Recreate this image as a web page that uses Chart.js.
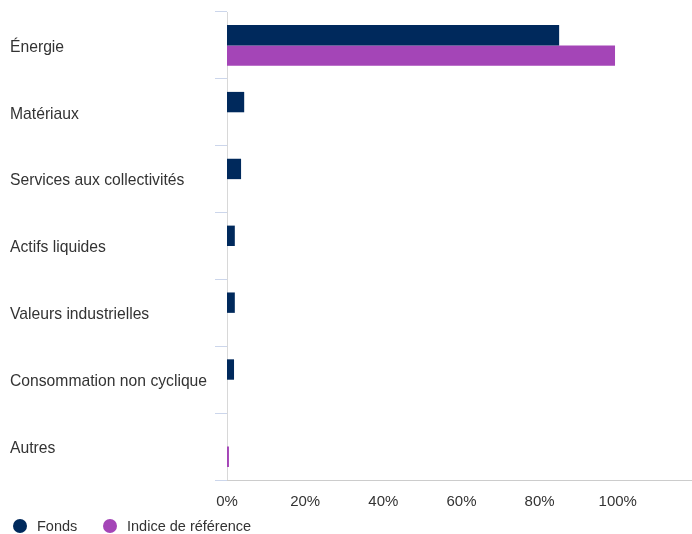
<!DOCTYPE html>
<html>
<head>
<meta charset="utf-8">
<script src="https://cdn.jsdelivr.net/npm/chart.js@4"></script>
<style>
  html, body { margin: 0; padding: 0; background: #fff; }
  #wrap { position: relative; width: 692px; height: 534px; }
  #legend { position: absolute; left: 0; top: 516px; height: 20px; font-family: "Liberation Sans", Arial, sans-serif; font-size: 14.5px; color: #333; }
  .item { position: absolute; top: 0; white-space: nowrap; line-height: 20px; }
  .dot { position: absolute; top: 3px; width: 14px; height: 14px; border-radius: 50%; }
</style>
</head>
<body>
<div id="wrap">
  <canvas id="c" width="692" height="534"></canvas>
  <div id="legend"></div>
</div>
<script>
const categories = ["Énergie", "Matériaux", "Services aux collectivités", "Actifs liquides", "Valeurs industrielles", "Consommation non cyclique", "Autres"];
const fondsValues = [85.0, 4.4, 3.6, 2.0, 2.0, 1.8, null];
const indiceValues = [99.3, null, null, null, null, null, 0.5];
const seriesNames = ["Fonds", "Indice de référence"];
const seriesColors = ["#00295c", "#a445b7"];
const xTicks = [0, 20, 40, 60, 80, 100];

const FONT = '"Liberation Sans", Arial, sans-serif';

new Chart(document.getElementById('c'), {
  type: 'bar',
  data: {
    labels: categories,
    datasets: [
      { label: seriesNames[0], data: fondsValues, backgroundColor: seriesColors[0], borderWidth: 0, categoryPercentage: 0.61, barPercentage: 1.0 },
      { label: seriesNames[1], data: indiceValues, backgroundColor: seriesColors[1], borderWidth: 0, categoryPercentage: 0.61, barPercentage: 1.0 }
    ]
  },
  options: {
    indexAxis: 'y',
    responsive: false,
    animation: false,
    layout: { padding: { left: 10, top: 12, right: 0, bottom: 18 } },
    plugins: { legend: { display: false }, tooltip: { enabled: false } },
    scales: {
      y: {
        position: 'left',
        grid: { display: true, drawOnChartArea: false, drawTicks: true, tickLength: 12, color: '#ccd6eb', offset: true },
        border: { display: true, color: '#d8d8d8', width: 1 },
        ticks: { crossAlign: 'far', color: '#333', font: { family: FONT, size: 15.7 }, padding: 0, labelOffset: 2 },
        afterFit: (s) => { s.width = 217; s.paddingTop = 0; s.paddingBottom = 0; }
      },
      x: {
        min: 0,
        max: 119,
        grid: { display: false },
        border: { display: true, color: '#cccccc', width: 1 },
        afterBuildTicks: (s) => { s.ticks = xTicks.map(v => ({ value: v })); },
        ticks: { color: '#333', font: { family: FONT, size: 15 }, padding: 5, maxRotation: 0, callback: (v) => v + '%' },
        afterFit: (s) => { s.paddingRight = 0; s.paddingLeft = 0; }
      }
    }
  }
});

const legend = document.getElementById('legend');
const legendPos = [13, 103];
seriesNames.forEach((name, i) => {
  const it = document.createElement('div');
  it.className = 'item';
  it.style.left = legendPos[i] + 'px';
  const d = document.createElement('span');
  d.className = 'dot';
  d.style.left = '0px';
  d.style.background = seriesColors[i];
  const t = document.createElement('span');
  t.textContent = name;
  t.style.marginLeft = '24px';
  it.appendChild(d);
  it.appendChild(t);
  legend.appendChild(it);
});
</script>
</body>
</html>
